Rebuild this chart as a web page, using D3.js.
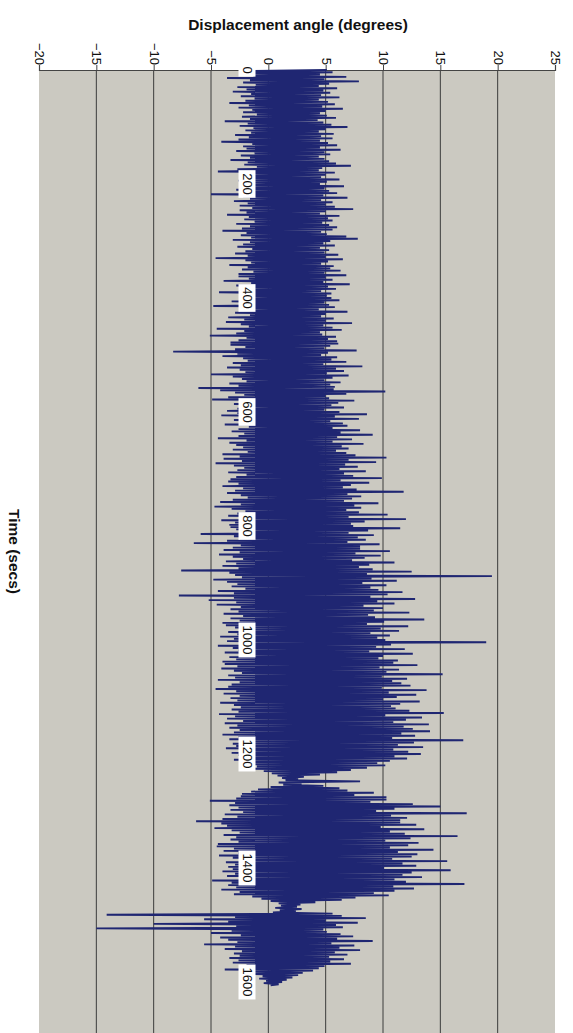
<!DOCTYPE html>
<html><head><meta charset="utf-8">
<script src="https://cdn.jsdelivr.net/npm/d3@7"></script>
<style>
body{margin:0;background:#fff}
svg{display:block}
text{font-family:"Liberation Sans",Arial,sans-serif;fill:#111}
</style>
</head><body>
<svg id="chart" width="573" height="1033"></svg>
<script>
// ---- data ----
const angleTicks = [-20, -15, -10, -5, 0, 5, 10, 15, 20, 25];
const timeTicks = [0, 200, 400, 600, 800, 1000, 1200, 1400, 1600];
const sampleInterval = 2; // seconds between samples
const displacement = [
  5.1,-1.8, 5.6,-2.1, 4.5,-1.3, 6.8,-3.6, 4.9,-1.6, 7.9,-2.2, 5.3,-1.1, 4.4,-2.7, 6.0,-1.9, 4.8,-3.1,
  5.4,-1.5, 4.6,-2.4, 6.2,-1.2, 4.4,-2.0, 5.2,-3.4, 5.8,-1.7, 4.7,-2.6, 6.5,-1.4, 5.0,-2.2, 4.5,-1.0,
  5.1,-2.3, 5.9,-1.6, 4.3,-3.8, 4.8,-1.8, 5.5,-2.5, 6.9,-1.3, 5.0,-2.0, 4.4,-1.5, 5.7,-2.9, 4.6,-1.7,
  5.6,-2.6, 4.5,-4.1, 5.2,-1.4, 6.0,-2.2, 4.5,-1.9, 6.3,-2.8, 4.9,-1.2, 5.4,-2.4, 4.4,-1.6, 4.9,-3.3,
  5.3,-1.8, 5.9,-2.1, 7.2,-1.0, 4.7,-2.7, 4.4,-4.4, 5.8,-1.5, 5.0,-2.3, 4.6,-1.9, 6.2,-2.6, 5.1,-1.3,
  4.5,-2.0, 6.6,-1.7, 4.9,-2.8, 5.3,-1.4, 6.0,-5.0, 4.8,-2.2, 6.9,-1.6, 4.6,-3.0, 5.6,-1.8, 5.0,-2.5,
  5.8,-1.4, 7.4,-2.5, 5.0,-1.9, 4.5,-3.6, 6.2,-1.7, 5.2,-2.1, 5.6,-1.2, 4.7,-2.8, 5.3,-1.6, 6.0,-2.3,
  5.6,-4.0, 4.6,-1.9, 5.1,-2.4, 6.8,-1.5, 7.8,-3.1, 5.4,-1.6, 4.8,-2.2, 5.8,-2.7, 4.5,-1.4, 5.3,-2.0,
  4.9,-2.9, 6.1,-1.8, 5.0,-4.6, 6.5,-2.0, 5.2,-1.5, 4.6,-3.4, 5.7,-1.8, 5.4,-2.3, 6.3,-1.3, 4.9,-2.6,
  6.8,-2.6, 5.0,-1.7, 5.6,-3.9, 4.8,-1.5, 7.1,-2.8, 5.2,-2.0, 5.9,-1.4, 4.6,-4.3, 5.5,-2.2, 5.1,-1.6,
  5.5,-2.2, 6.2,-3.2, 4.9,-1.8, 5.3,-4.8, 5.8,-1.9, 4.4,-2.5, 6.9,-2.9, 5.0,-1.6, 4.6,-3.5, 5.7,-2.1,
  5.0,-3.7, 7.3,-2.4, 4.8,-1.7, 5.6,-4.5, 6.4,-2.1, 4.5,-2.8, 4.7,-5.1, 5.9,-1.9, 5.2,-2.6, 6.0,-3.3,
  6.1,-3.3, 5.4,-2.0, 4.9,-2.9, 7.7,-8.3, 5.2,-2.7, 4.6,-4.0, 6.0,-2.2, 5.5,-1.8, 6.8,-3.1, 4.8,-2.4,
  8.2,-3.6, 5.9,-2.5, 6.6,-2.0, 5.1,-5.0, 7.0,-3.1, 5.6,-2.3, 4.9,-1.9, 6.3,-3.4, 5.4,-2.6, 5.8,-6.1,
  5.7,-4.2, 10.2,-2.9, 6.8,-2.1, 5.0,-3.5, 5.3,-4.9, 7.5,-2.4, 6.1,-3.0, 5.5,-1.8, 6.6,-2.7, 4.9,-3.6,
  6.2,-2.7, 8.6,-4.1, 5.8,-2.0, 7.9,-3.0, 5.4,-2.2, 6.5,-3.8, 6.9,-1.7, 5.6,-2.6, 8.0,-3.2, 6.3,-2.1,
  9.1,-2.6, 6.0,-4.4, 7.3,-1.9, 5.6,-3.4, 8.3,-2.8, 6.4,-2.2, 7.0,-3.1, 5.9,-1.8, 6.8,-4.0, 7.6,-2.5,
  10.3,-3.9, 7.0,-2.3, 9.4,-4.6, 6.7,-3.0, 7.8,-2.1, 6.2,-2.7, 8.5,-3.5, 6.6,-1.9, 7.4,-2.8, 9.9,-3.3,
  6.3,-3.5, 8.8,-2.6, 7.2,-4.0, 6.5,-2.2, 7.7,-2.9, 11.8,-3.6, 6.9,-2.4, 8.1,-1.8, 7.3,-3.1, 6.6,-4.2,
  9.6,-2.4, 7.5,-4.7, 8.1,-3.2, 6.8,-2.0, 7.9,-2.7, 10.4,-3.5, 7.0,-2.2, 12.0,-4.1, 8.4,-2.9, 7.2,-3.4,
  7.4,-3.3, 11.5,-2.8, 8.7,-2.1, 7.0,-5.9, 9.2,-3.0, 7.8,-2.5, 8.5,-3.6, 6.9,-6.5, 9.7,-2.4, 8.0,-3.1,
  8.0,-3.9, 10.6,-2.5, 7.6,-4.3, 9.8,-3.1, 8.4,-2.2, 7.3,-3.7, 11.0,-2.8, 8.8,-4.0, 7.9,-2.6, 9.1,-7.6,
  12.5,-3.4, 8.6,-2.9, 19.5,-2.3, 9.0,-4.8, 11.2,-3.6, 8.2,-2.7, 10.3,-3.2, 8.9,-2.0, 9.6,-4.4, 11.7,-3.0,
  10.4,-7.8, 8.9,-3.0, 12.8,-5.2, 9.5,-2.8, 11.0,-4.5, 8.3,-2.4, 10.0,-3.3, 9.2,-2.6, 12.3,-3.9, 8.7,-2.2,
  9.3,-3.3, 13.6,-2.5, 10.1,-4.0, 8.6,-3.7, 12.2,-2.9, 9.8,-2.1, 11.4,-3.5, 8.9,-2.7, 10.6,-4.2, 9.5,-3.0,
  10.2,-3.6, 19.0,-2.4, 10.7,-4.4, 9.4,-3.1, 11.9,-2.6, 8.8,-3.8, 12.6,-2.3, 10.0,-3.4, 9.6,-2.8, 11.3,-4.0,
  10.9,-3.8, 13.0,-2.7, 9.7,-4.1, 11.4,-3.0, 10.3,-2.3, 15.2,-3.5, 9.9,-2.9, 12.1,-4.4, 10.8,-2.5, 11.6,-3.2,
  12.4,-3.5, 9.9,-4.6, 13.8,-2.8, 10.5,-3.9, 12.9,-2.5, 11.2,-3.3, 10.0,-2.7, 13.2,-4.2, 11.5,-3.0, 10.7,-2.4,
  11.1,-3.2, 12.3,-2.6, 15.3,-4.3, 10.2,-2.9, 13.4,-3.6, 12.0,-2.2, 10.9,-3.8, 14.0,-2.7, 11.8,-3.4, 12.6,-2.5,
  14.1,-3.0, 11.6,-4.0, 12.8,-2.6, 10.8,-3.4, 17.0,-2.0, 12.7,-3.1, 11.3,-2.8, 13.5,-3.7, 10.9,-2.4, 12.2,-3.2,
  13.3,-2.6, 11.0,-2.2, 12.1,-3.0, 10.6,-1.5, 9.5,-2.1, 10.2,-1.0, 8.6,-1.4, 7.2,-0.4, 6.0,0.3, 4.5,0.8,
  3.1,1.2, 2.6,1.5, 8.0,0.9, 2.9,1.3, 4.8,0.2, 6.2,-0.9, 6.9,-1.5, 9.2,-2.3, 7.5,-2.4, 10.3,-2.8,
  10.3,-5.1, 8.9,-2.9, 12.6,-3.4, 15.0,-2.6, 11.0,-3.3, 9.4,-2.2, 17.3,-3.8, 10.7,-2.7, 12.1,-4.0, 11.5,-6.3,
  11.5,-4.1, 12.9,-3.6, 9.8,-4.7, 13.6,-3.2, 10.6,-2.5, 11.9,-3.9, 16.5,-2.8, 12.4,-3.3, 10.2,-2.6, 13.1,-4.4,
  12.2,-4.5, 10.6,-3.0, 14.4,-3.9, 11.3,-2.6, 13.0,-4.3, 12.5,-3.1, 10.8,-2.4, 15.6,-3.7, 11.7,-2.9, 12.9,-3.5,
  10.1,-3.1, 15.9,-4.0, 12.5,-2.9, 11.7,-3.6, 13.4,-2.5, 11.0,-4.9, 12.0,-3.2, 17.1,-3.5, 10.9,-2.8, 12.7,-4.1,
  11.0,-2.5, 9.2,-3.0, 10.5,-1.4, 7.6,-0.6, 6.4,0.2, 4.1,0.9, 2.8,1.1, 2.5,0.6, 2.9,1.0, 2.4,0.4,
  5.6,-14.1, 6.4,-2.9, 8.5,-5.6, 5.0,-3.5, 7.8,-10.0, 5.9,-2.8, 6.5,-15.0, 4.8,-3.2, 5.1,-5.0, 6.3,-2.4,
  7.4,-4.2, 6.0,-3.5, 9.1,-2.7, 5.5,-5.6, 7.5,-2.9, 6.2,-3.8, 8.0,-2.3, 5.8,-3.0, 6.9,-2.5, 5.3,-3.4,
  6.6,-2.6, 5.4,-3.1, 7.2,-1.9, 4.9,-2.3, 4.4,-3.8, 3.9,-1.2, 3.0,-1.6, 2.6,-0.5, 2.1,-0.8, 1.6,-0.2,
  1.2,-0.4, 0.9,0.2
];

// ---- layout ----
const svg = d3.select("#chart");
const plot = {left: 39, right: 555, top: 70, bottom: 1033};
const x = d3.scaleLinear().domain([-20, 25]).range([plot.left, plot.right]);
const y = d3.scaleLinear().domain([0, 1800]).range([plot.top, 1096]);

svg.append("rect")
  .attr("x", plot.left).attr("y", plot.top)
  .attr("width", plot.right - plot.left).attr("height", plot.bottom - plot.top)
  .attr("fill", "#cbc9c1");

// gridlines (interior ticks)
svg.append("g").selectAll("line")
  .data(angleTicks.filter(d => d > -20 && d < 25))
  .join("line")
  .attr("x1", d => x(d)).attr("x2", d => x(d))
  .attr("y1", plot.top).attr("y2", plot.bottom)
  .attr("stroke", "#3c3c3c").attr("stroke-width", 1);

// top axis
const axis = svg.append("g")
  .attr("transform", `translate(0,${plot.top})`)
  .call(d3.axisTop(x).tickValues(angleTicks).tickSize(5).tickFormat(d3.format("d")));
axis.select(".domain").attr("stroke", "#444").attr("stroke-width", 1.2);
axis.selectAll(".tick line").attr("stroke", "#444");
axis.selectAll(".tick text")
  .attr("x", 0).attr("y", 0)
  .attr("transform", "translate(0,-5) rotate(90)")
  .attr("text-anchor", "end")
  .attr("dominant-baseline", "central")
  .attr("dy", null)
  .style("font-size", "13px")
  .attr("fill", "#111");

// data line
const pts = displacement.map((v, i) => [i * sampleInterval, v]);
svg.append("path")
  .datum(pts)
  .attr("fill", "none")
  .attr("stroke", "#1f2672")
  .attr("stroke-width", 1.9)
  .attr("stroke-linejoin", "bevel")
  .attr("d", d3.line().x(d => x(d[1])).y(d => y(d[0])));

// time labels (white boxes)
const labelX = 247;
const tl = svg.append("g").selectAll("g")
  .data(timeTicks)
  .join("g")
  .attr("transform", d => `translate(${labelX},${y(d)}) rotate(90)`);
tl.append("text")
  .attr("text-anchor", "middle")
  .attr("dominant-baseline", "central")
  .style("font-size", "13px")
  .text(d => d);
tl.each(function() {
  const g = d3.select(this);
  const w = g.select("text").node().getComputedTextLength();
  g.insert("rect", "text")
    .attr("x", -w / 2 - 3).attr("y", -8.5)
    .attr("width", w + 6).attr("height", 17)
    .attr("fill", "#fff");
});

// titles
svg.append("text")
  .attr("x", 298).attr("y", 30)
  .attr("text-anchor", "middle")
  .style("font-size", "15.5px").style("font-weight", "bold")
  .text("Displacement angle (degrees)");
svg.append("text")
  .attr("transform", `translate(14,${(plot.top + plot.bottom) / 2}) rotate(90)`)
  .attr("text-anchor", "middle")
  .attr("dominant-baseline", "central")
  .style("font-size", "15.5px").style("font-weight", "bold")
  .text("Time (secs)");
</script>
</body></html>
